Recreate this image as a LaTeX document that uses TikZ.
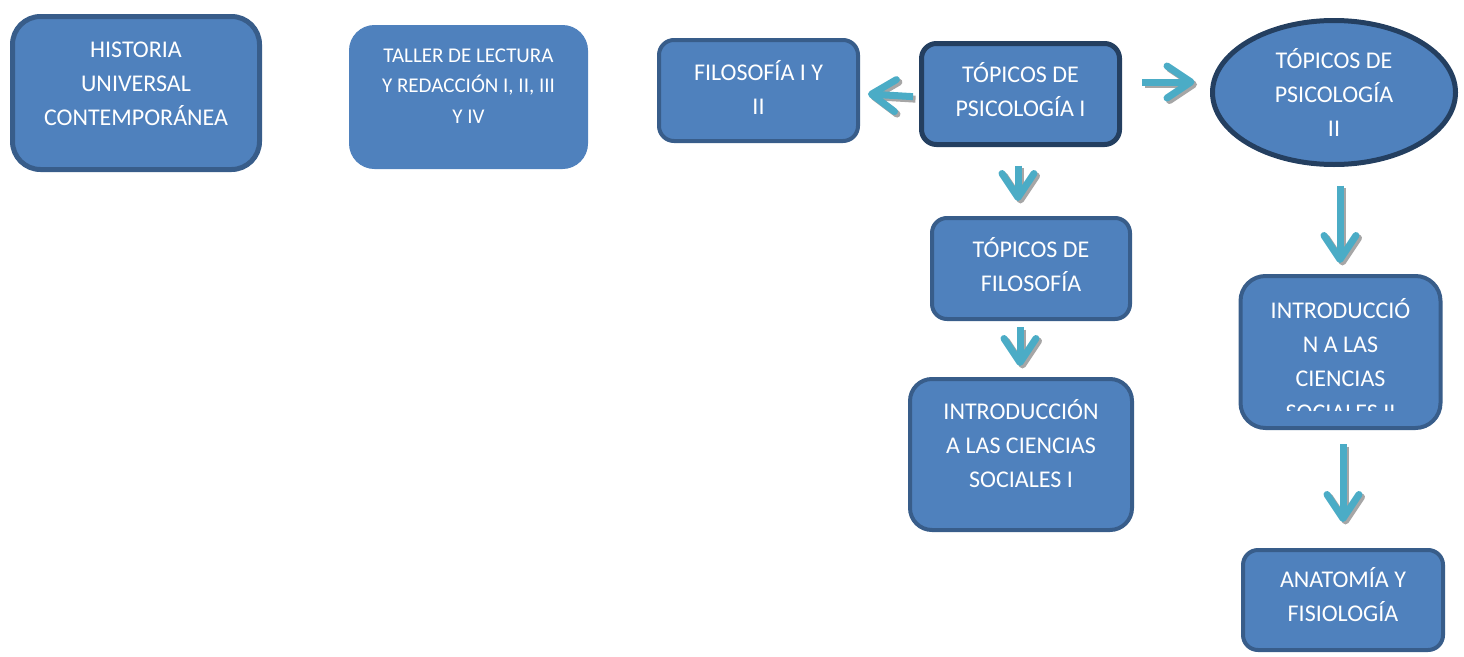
\documentclass[tikz,border=0pt]{standalone}
\usepackage{fontspec}
\setmainfont{Carlito}
\usetikzlibrary{arrows.meta,shapes.geometric}
\definecolor{boxfill}{HTML}{4F81BD}
\definecolor{boxline}{HTML}{385D8A}
\definecolor{darkline}{HTML}{243F60}
\definecolor{arrowc}{HTML}{4BACC6}
\definecolor{shadowc}{HTML}{A6A6A6}
\newcommand\bt[4]{\parbox[c][#2pt][t]{#1pt}{\centering\vspace*{#3pt}\strut #4}}
\newcommand\connect[3]{\draw[shad,#1] #2 -- #3; \draw[conn,#1] #2 -- #3;}
\begin{document}
\begin{tikzpicture}[x=1pt,y=-1pt,
  mainfont/.style={font=\fontsize{24}{34}\selectfont},
  box/.style={rectangle, rounded corners=15pt, fill=boxfill, draw=boxline,
    line width=4pt, inner sep=0pt, text=white, mainfont},
  arr/.style={line width=7pt, -{Straight Barb[length=24pt,width=32pt,round]}},
  conn/.style={arr, draw=arrowc},
  shad/.style={arr, draw=shadowc, transform canvas={shift={(2.5pt,-2.5pt)}}}]
\useasboundingbox (0,0) rectangle (1464,656);

% boxes
\node[box, rounded corners=28pt, line width=5pt] (hist) at (136,93)
  {\bt{247}{153}{17.6}{HISTORIA\\UNIVERSAL\\CONTEMPORÁNEA}};
\node[box, rounded corners=25pt, draw=boxfill, line width=1pt,
  font=\fontsize{21}{30.5}\selectfont] (taller) at (468.5,97)
  {\bt{238}{143}{15.4}{TALLER DE LECTURA\\Y REDACCIÓN I, II, III\\Y IV}};
\node[box] (fil) at (758.5,90.5)
  {\bt{199}{101}{16.9}{FILOSOFÍA I Y\\II}};
\node[box, draw=darkline, line width=5pt] (t1) at (1020.5,94)
  {\bt{198}{101}{15.4}{TÓPICOS DE\\PSICOLOGÍA I}};
\node[ellipse, fill=boxfill, draw=darkline, line width=5pt, minimum width=243pt,
  minimum height=144pt, inner sep=0pt, text=white, mainfont] (tp2) at (1334,92.5)
  {\bt{150}{100}{2.4}{TÓPICOS DE\\PSICOLOGÍA\\II}};
\node[box] (tfil) at (1031,268.5)
  {\bt{198}{101}{15.9}{TÓPICOS DE\\FILOSOFÍA}};
\node[box, rounded corners=22pt] (intro1) at (1021,454.5)
  {\bt{222}{151}{16.9}{INTRODUCCIÓN\\A LAS CIENCIAS\\SOCIALES I}};
\node[box, rounded corners=25pt, minimum width=200pt, minimum height=152pt] (intro2)
  at (1340.5,352) {};
\begin{scope}
  \clip (1240,277) rectangle (1441,410);
  \node[inner sep=0pt, anchor=north, text=white, mainfont] (intro2text)
    at (intro2.north)
    {\bt{200}{152}{20.9}{INTRODUCCIÓ\\N A LAS\\CIENCIAS\\SOCIALES II}};
\end{scope}
\node[box] (anat) at (1343,600)
  {\bt{200}{100}{13.9}{ANATOMÍA Y\\FISIOLOGÍA}};

% connectors
\connect{shorten <=6pt, shorten >=8pt}{([yshift=-3pt]t1.west)}{([yshift=-3pt]fil.east)}
\connect{shorten <=20pt, shorten >=15.5pt}{([yshift=12pt]t1.east)}{([yshift=10.5pt]tp2.west)}
\connect{shorten <=18.5pt, shorten >=15pt}{([xshift=-2.5pt]t1.south)}{([xshift=-13pt]tfil.north)}
\connect{shorten <=6pt, shorten >=11pt}{([xshift=-11pt]tfil.south)}{([xshift=-1pt]intro1.north)}
\connect{shorten <=18.5pt, shorten >=11pt}{([xshift=6pt]tp2.south)}{([xshift=-0.5pt]intro2.north)}
\connect{shorten <=14pt, shorten >=26pt}{([xshift=2.5pt]intro2.south)}{(anat.north)}
\end{tikzpicture}
\end{document}
